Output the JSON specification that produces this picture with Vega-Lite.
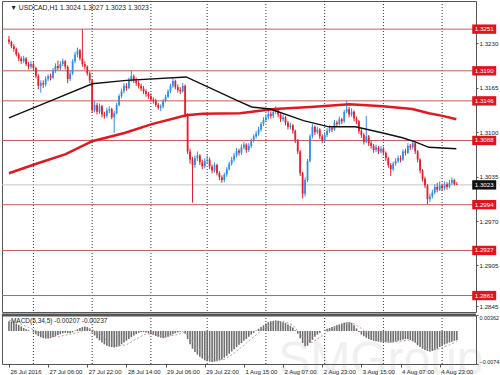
{
"$schema":"https://vega.github.io/schema/vega-lite/v6.json",
"padding":0,"spacing":0,"background":"white",
"config":{"view":{"stroke":"#555","strokeWidth":1},"font":"Liberation Sans",
"axis":{"labelFont":"Liberation Sans","labelFontSize":6.2,"labelColor":"#222","grid":false,"domain":false,"tickColor":"#555","tickSize":2,"labelPadding":1,"labelOverlap":false,"labelFlush":false,"title":null}},
"datasets":{
"grid":[{"i":10},{"i":34},{"i":58},{"i":81},{"i":105},{"i":129},{"i":153},{"i":177}],
"levels":[{"p":1.3251,"kind":"sr"},{"p":1.3190,"kind":"sr"},{"p":1.3146,"kind":"sr"},{"p":1.3088,"kind":"sr"},{"p":1.3023,"kind":"last"},{"p":1.2994,"kind":"sr"},{"p":1.2927,"kind":"sr"},{"p":1.2861,"kind":"sr"}],
"ma_black":[{"i":0,"p":1.3121},{"i":17,"p":1.3146},{"i":34,"p":1.3171},{"i":48,"p":1.3176},{"i":72.4,"p":1.3181},{"i":93.6,"p":1.3146},{"i":99.2,"p":1.3137},{"i":106.8,"p":1.3134},{"i":120.4,"p":1.3117},{"i":130.8,"p":1.3108},{"i":141.6,"p":1.3108},{"i":152.8,"p":1.3099},{"i":160.8,"p":1.3092},{"i":166,"p":1.3086},{"i":171.6,"p":1.3078},{"i":182.8,"p":1.3076}],
"ma_red":[{"i":0,"p":1.3040},{"i":11.2,"p":1.3054},{"i":23.2,"p":1.3068},{"i":34,"p":1.3087},{"i":47.2,"p":1.3099},{"i":58.4,"p":1.3112},{"i":72.4,"p":1.3125},{"i":79.2,"p":1.3127},{"i":94.4,"p":1.3128},{"i":108.4,"p":1.3134},{"i":123.2,"p":1.3137},{"i":139.2,"p":1.3141},{"i":152.8,"p":1.3138},{"i":164.8,"p":1.3134},{"i":171.6,"p":1.3128},{"i":177.2,"p":1.3124},{"i":182.8,"p":1.3119}],
"candles":[
{"i":0,"o":1.3236,"h":1.3241,"l":1.3229,"c":1.3232},{"i":1,"o":1.3232,"h":1.3234,"l":1.3223,"c":1.3226},{"i":2,"o":1.3226,"h":1.3229,"l":1.3218,"c":1.3222},{"i":3,"o":1.3222,"h":1.3224,"l":1.3211,"c":1.3214},{"i":4,"o":1.3214,"h":1.3217,"l":1.3204,"c":1.3208},{"i":5,"o":1.3208,"h":1.3211,"l":1.3200,"c":1.3204},{"i":6,"o":1.3204,"h":1.3212,"l":1.3201,"c":1.3208},{"i":7,"o":1.3208,"h":1.3210,"l":1.3197,"c":1.3200},{"i":8,"o":1.3200,"h":1.3203,"l":1.3192,"c":1.3196},{"i":9,"o":1.3196,"h":1.3204,"l":1.3193,"c":1.3200},
{"i":10,"o":1.3200,"h":1.3203,"l":1.3190,"c":1.3194},{"i":11,"o":1.3194,"h":1.3196,"l":1.3179,"c":1.3182},{"i":12,"o":1.3182,"h":1.3185,"l":1.3163,"c":1.3168},{"i":13,"o":1.3168,"h":1.3176,"l":1.3158,"c":1.3172},{"i":14,"o":1.3172,"h":1.3176,"l":1.3165,"c":1.3170},{"i":15,"o":1.3170,"h":1.3182,"l":1.3167,"c":1.3178},{"i":16,"o":1.3178,"h":1.3185,"l":1.3175,"c":1.3182},{"i":17,"o":1.3182,"h":1.3186,"l":1.3176,"c":1.3180},{"i":18,"o":1.3180,"h":1.3194,"l":1.3178,"c":1.3190},{"i":19,"o":1.3190,"h":1.3201,"l":1.3187,"c":1.3197},
{"i":20,"o":1.3197,"h":1.3205,"l":1.3191,"c":1.3194},{"i":21,"o":1.3194,"h":1.3204,"l":1.3191,"c":1.3200},{"i":22,"o":1.3200,"h":1.3208,"l":1.3197,"c":1.3204},{"i":23,"o":1.3204,"h":1.3206,"l":1.3192,"c":1.3196},{"i":24,"o":1.3196,"h":1.3198,"l":1.3172,"c":1.3178},{"i":25,"o":1.3178,"h":1.3190,"l":1.3175,"c":1.3186},{"i":26,"o":1.3186,"h":1.3207,"l":1.3184,"c":1.3204},{"i":27,"o":1.3204,"h":1.3218,"l":1.3201,"c":1.3214},{"i":28,"o":1.3214,"h":1.3224,"l":1.3210,"c":1.3220},{"i":29,"o":1.3220,"h":1.3222,"l":1.3205,"c":1.3208},
{"i":30,"o":1.3208,"h":1.3251,"l":1.3196,"c":1.3200},{"i":31,"o":1.3200,"h":1.3204,"l":1.3192,"c":1.3196},{"i":32,"o":1.3196,"h":1.3198,"l":1.3183,"c":1.3186},{"i":33,"o":1.3186,"h":1.3189,"l":1.3172,"c":1.3176},{"i":34,"o":1.3176,"h":1.3178,"l":1.3128,"c":1.3132},{"i":35,"o":1.3132,"h":1.3146,"l":1.3129,"c":1.3140},{"i":36,"o":1.3140,"h":1.3143,"l":1.3126,"c":1.3130},{"i":37,"o":1.3130,"h":1.3142,"l":1.3127,"c":1.3138},{"i":38,"o":1.3138,"h":1.3140,"l":1.3122,"c":1.3126},{"i":39,"o":1.3126,"h":1.3130,"l":1.3120,"c":1.3124},
{"i":40,"o":1.3124,"h":1.3136,"l":1.3121,"c":1.3132},{"i":41,"o":1.3132,"h":1.3138,"l":1.3128,"c":1.3134},{"i":42,"o":1.3134,"h":1.3136,"l":1.3119,"c":1.3122},{"i":43,"o":1.3122,"h":1.3131,"l":1.3099,"c":1.3128},{"i":44,"o":1.3128,"h":1.3143,"l":1.3126,"c":1.3140},{"i":45,"o":1.3140,"h":1.3156,"l":1.3138,"c":1.3153},{"i":46,"o":1.3153,"h":1.3164,"l":1.3150,"c":1.3160},{"i":47,"o":1.3160,"h":1.3172,"l":1.3157,"c":1.3168},{"i":48,"o":1.3168,"h":1.3172,"l":1.3161,"c":1.3165},{"i":49,"o":1.3165,"h":1.3180,"l":1.3163,"c":1.3176},
{"i":50,"o":1.3176,"h":1.3190,"l":1.3174,"c":1.3182},{"i":51,"o":1.3182,"h":1.3185,"l":1.3172,"c":1.3176},{"i":52,"o":1.3176,"h":1.3180,"l":1.3168,"c":1.3172},{"i":53,"o":1.3172,"h":1.3176,"l":1.3164,"c":1.3168},{"i":54,"o":1.3168,"h":1.3171,"l":1.3160,"c":1.3164},{"i":55,"o":1.3164,"h":1.3168,"l":1.3156,"c":1.3160},{"i":56,"o":1.3160,"h":1.3163,"l":1.3152,"c":1.3156},{"i":57,"o":1.3156,"h":1.3159,"l":1.3149,"c":1.3153},{"i":58,"o":1.3153,"h":1.3157,"l":1.3145,"c":1.3148},{"i":59,"o":1.3148,"h":1.3151,"l":1.3142,"c":1.3146},
{"i":60,"o":1.3146,"h":1.3149,"l":1.3137,"c":1.3140},{"i":61,"o":1.3140,"h":1.3143,"l":1.3133,"c":1.3136},{"i":62,"o":1.3136,"h":1.3141,"l":1.3131,"c":1.3138},{"i":63,"o":1.3138,"h":1.3149,"l":1.3135,"c":1.3146},{"i":64,"o":1.3146,"h":1.3155,"l":1.3144,"c":1.3152},{"i":65,"o":1.3152,"h":1.3163,"l":1.3150,"c":1.3160},{"i":66,"o":1.3160,"h":1.3171,"l":1.3157,"c":1.3168},{"i":67,"o":1.3168,"h":1.3179,"l":1.3165,"c":1.3175},{"i":68,"o":1.3175,"h":1.3177,"l":1.3163,"c":1.3166},{"i":69,"o":1.3166,"h":1.3170,"l":1.3158,"c":1.3162},
{"i":70,"o":1.3162,"h":1.3166,"l":1.3156,"c":1.3160},{"i":71,"o":1.3160,"h":1.3172,"l":1.3158,"c":1.3168},{"i":72,"o":1.3168,"h":1.3170,"l":1.3122,"c":1.3126},{"i":73,"o":1.3126,"h":1.3128,"l":1.3068,"c":1.3072},{"i":74,"o":1.3072,"h":1.3076,"l":1.3054,"c":1.3060},{"i":75,"o":1.3060,"h":1.3064,"l":1.2997,"c":1.3052},{"i":76,"o":1.3052,"h":1.3066,"l":1.3048,"c":1.3062},{"i":77,"o":1.3062,"h":1.3072,"l":1.3058,"c":1.3066},{"i":78,"o":1.3066,"h":1.3068,"l":1.3052,"c":1.3056},{"i":79,"o":1.3056,"h":1.3060,"l":1.3046,"c":1.3050},
{"i":80,"o":1.3050,"h":1.3062,"l":1.3047,"c":1.3058},{"i":81,"o":1.3058,"h":1.3066,"l":1.3054,"c":1.3060},{"i":82,"o":1.3060,"h":1.3063,"l":1.3046,"c":1.3050},{"i":83,"o":1.3050,"h":1.3053,"l":1.3040,"c":1.3044},{"i":84,"o":1.3044,"h":1.3056,"l":1.3041,"c":1.3052},{"i":85,"o":1.3052,"h":1.3054,"l":1.3037,"c":1.3040},{"i":86,"o":1.3040,"h":1.3043,"l":1.3030,"c":1.3034},{"i":87,"o":1.3034,"h":1.3037,"l":1.3026,"c":1.3030},{"i":88,"o":1.3030,"h":1.3041,"l":1.3027,"c":1.3038},{"i":89,"o":1.3038,"h":1.3049,"l":1.3035,"c":1.3046},
{"i":90,"o":1.3046,"h":1.3057,"l":1.3044,"c":1.3054},{"i":91,"o":1.3054,"h":1.3064,"l":1.3051,"c":1.3060},{"i":92,"o":1.3060,"h":1.3070,"l":1.3057,"c":1.3066},{"i":93,"o":1.3066,"h":1.3077,"l":1.3063,"c":1.3073},{"i":94,"o":1.3073,"h":1.3076,"l":1.3066,"c":1.3070},{"i":95,"o":1.3070,"h":1.3082,"l":1.3067,"c":1.3078},{"i":96,"o":1.3078,"h":1.3086,"l":1.3075,"c":1.3082},{"i":97,"o":1.3082,"h":1.3084,"l":1.3070,"c":1.3074},{"i":98,"o":1.3074,"h":1.3084,"l":1.3071,"c":1.3080},{"i":99,"o":1.3080,"h":1.3091,"l":1.3077,"c":1.3088},
{"i":100,"o":1.3088,"h":1.3097,"l":1.3085,"c":1.3094},{"i":101,"o":1.3094,"h":1.3102,"l":1.3091,"c":1.3098},{"i":102,"o":1.3098,"h":1.3108,"l":1.3095,"c":1.3104},{"i":103,"o":1.3104,"h":1.3115,"l":1.3101,"c":1.3112},{"i":104,"o":1.3112,"h":1.3122,"l":1.3109,"c":1.3118},{"i":105,"o":1.3118,"h":1.3126,"l":1.3115,"c":1.3122},{"i":106,"o":1.3122,"h":1.3131,"l":1.3119,"c":1.3127},{"i":107,"o":1.3127,"h":1.3130,"l":1.3120,"c":1.3124},{"i":108,"o":1.3124,"h":1.3134,"l":1.3121,"c":1.3130},{"i":109,"o":1.3130,"h":1.3138,"l":1.3127,"c":1.3132},
{"i":110,"o":1.3132,"h":1.3134,"l":1.3122,"c":1.3126},{"i":111,"o":1.3126,"h":1.3128,"l":1.3115,"c":1.3119},{"i":112,"o":1.3119,"h":1.3126,"l":1.3116,"c":1.3122},{"i":113,"o":1.3122,"h":1.3124,"l":1.3110,"c":1.3114},{"i":114,"o":1.3114,"h":1.3117,"l":1.3104,"c":1.3108},{"i":115,"o":1.3108,"h":1.3114,"l":1.3104,"c":1.3110},{"i":116,"o":1.3110,"h":1.3112,"l":1.3098,"c":1.3102},{"i":117,"o":1.3102,"h":1.3104,"l":1.3084,"c":1.3088},{"i":118,"o":1.3088,"h":1.3090,"l":1.3068,"c":1.3072},{"i":119,"o":1.3072,"h":1.3074,"l":1.3036,"c":1.3040},
{"i":120,"o":1.3040,"h":1.3042,"l":1.3003,"c":1.3010},{"i":121,"o":1.3010,"h":1.3034,"l":1.3006,"c":1.3030},{"i":122,"o":1.3030,"h":1.3061,"l":1.3027,"c":1.3058},{"i":123,"o":1.3058,"h":1.3097,"l":1.3056,"c":1.3094},{"i":124,"o":1.3094,"h":1.3112,"l":1.3091,"c":1.3108},{"i":125,"o":1.3108,"h":1.3110,"l":1.3096,"c":1.3100},{"i":126,"o":1.3100,"h":1.3108,"l":1.3097,"c":1.3104},{"i":127,"o":1.3104,"h":1.3106,"l":1.3090,"c":1.3094},{"i":128,"o":1.3094,"h":1.3097,"l":1.3084,"c":1.3088},{"i":129,"o":1.3088,"h":1.3100,"l":1.3085,"c":1.3096},
{"i":130,"o":1.3096,"h":1.3106,"l":1.3093,"c":1.3102},{"i":131,"o":1.3102,"h":1.3110,"l":1.3099,"c":1.3106},{"i":132,"o":1.3106,"h":1.3109,"l":1.3100,"c":1.3104},{"i":133,"o":1.3104,"h":1.3118,"l":1.3102,"c":1.3114},{"i":134,"o":1.3114,"h":1.3117,"l":1.3108,"c":1.3112},{"i":135,"o":1.3112,"h":1.3123,"l":1.3110,"c":1.3119},{"i":136,"o":1.3119,"h":1.3121,"l":1.3112,"c":1.3116},{"i":137,"o":1.3116,"h":1.3133,"l":1.3114,"c":1.3130},{"i":138,"o":1.3130,"h":1.3146,"l":1.3128,"c":1.3134},{"i":139,"o":1.3134,"h":1.3137,"l":1.3122,"c":1.3126},
{"i":140,"o":1.3126,"h":1.3135,"l":1.3123,"c":1.3130},{"i":141,"o":1.3130,"h":1.3132,"l":1.3116,"c":1.3120},{"i":142,"o":1.3120,"h":1.3123,"l":1.3112,"c":1.3116},{"i":143,"o":1.3116,"h":1.3118,"l":1.3098,"c":1.3102},{"i":144,"o":1.3102,"h":1.3106,"l":1.3092,"c":1.3096},{"i":145,"o":1.3096,"h":1.3099,"l":1.3082,"c":1.3086},{"i":146,"o":1.3086,"h":1.3124,"l":1.3084,"c":1.3094},{"i":147,"o":1.3094,"h":1.3096,"l":1.3080,"c":1.3084},{"i":148,"o":1.3084,"h":1.3088,"l":1.3076,"c":1.3080},{"i":149,"o":1.3080,"h":1.3083,"l":1.3070,"c":1.3074},
{"i":150,"o":1.3074,"h":1.3082,"l":1.3071,"c":1.3078},{"i":151,"o":1.3078,"h":1.3080,"l":1.3068,"c":1.3072},{"i":152,"o":1.3072,"h":1.3080,"l":1.3069,"c":1.3076},{"i":153,"o":1.3076,"h":1.3079,"l":1.3066,"c":1.3070},{"i":154,"o":1.3070,"h":1.3072,"l":1.3058,"c":1.3062},{"i":155,"o":1.3062,"h":1.3064,"l":1.3048,"c":1.3052},{"i":156,"o":1.3052,"h":1.3055,"l":1.3036,"c":1.3046},{"i":157,"o":1.3046,"h":1.3057,"l":1.3043,"c":1.3054},{"i":158,"o":1.3054,"h":1.3062,"l":1.3051,"c":1.3058},{"i":159,"o":1.3058,"h":1.3066,"l":1.3055,"c":1.3062},
{"i":160,"o":1.3062,"h":1.3066,"l":1.3056,"c":1.3060},{"i":161,"o":1.3060,"h":1.3075,"l":1.3058,"c":1.3072},{"i":162,"o":1.3072,"h":1.3076,"l":1.3066,"c":1.3070},{"i":163,"o":1.3070,"h":1.3084,"l":1.3068,"c":1.3080},{"i":164,"o":1.3080,"h":1.3083,"l":1.3074,"c":1.3078},{"i":165,"o":1.3078,"h":1.3088,"l":1.3075,"c":1.3084},{"i":166,"o":1.3084,"h":1.3086,"l":1.3068,"c":1.3072},{"i":167,"o":1.3072,"h":1.3074,"l":1.3056,"c":1.3060},{"i":168,"o":1.3060,"h":1.3062,"l":1.3040,"c":1.3044},{"i":169,"o":1.3044,"h":1.3046,"l":1.3028,"c":1.3032},
{"i":170,"o":1.3032,"h":1.3035,"l":1.3018,"c":1.3022},{"i":171,"o":1.3022,"h":1.3024,"l":1.2995,"c":1.3002},{"i":172,"o":1.3002,"h":1.3010,"l":1.2998,"c":1.3006},{"i":173,"o":1.3006,"h":1.3016,"l":1.3003,"c":1.3012},{"i":174,"o":1.3012,"h":1.3024,"l":1.3009,"c":1.3020},{"i":175,"o":1.3020,"h":1.3026,"l":1.3012,"c":1.3016},{"i":176,"o":1.3016,"h":1.3028,"l":1.3014,"c":1.3022},{"i":177,"o":1.3022,"h":1.3025,"l":1.3014,"c":1.3018},{"i":178,"o":1.3018,"h":1.3028,"l":1.3015,"c":1.3024},{"i":179,"o":1.3024,"h":1.3027,"l":1.3016,"c":1.3020},
{"i":180,"o":1.3020,"h":1.3030,"l":1.3018,"c":1.3026},{"i":181,"o":1.3026,"h":1.3034,"l":1.3023,"c":1.3030},{"i":182,"o":1.3030,"h":1.3032,"l":1.3022,"c":1.3024},{"i":183,"o":1.3024,"h":1.3027,"l":1.3023,"c":1.3023}],
"macd":[
{"i":0,"m":0.0022},{"i":1,"m":0.0021},{"i":2,"m":0.0020},{"i":3,"m":0.0017},{"i":4,"m":0.0014},{"i":5,"m":0.0010},{"i":6,"m":0.0007},{"i":7,"m":0.0004},{"i":8,"m":0.0002},{"i":9,"m":0.0000},
{"i":10,"m":-0.0003},{"i":11,"m":-0.0007},{"i":12,"m":-0.0011},{"i":13,"m":-0.0014},{"i":14,"m":-0.0016},{"i":15,"m":-0.0017},{"i":16,"m":-0.0017},{"i":17,"m":-0.0016},{"i":18,"m":-0.0014},{"i":19,"m":-0.0011},
{"i":20,"m":-0.0009},{"i":21,"m":-0.0007},{"i":22,"m":-0.0005},{"i":23,"m":-0.0004},{"i":24,"m":-0.0005},{"i":25,"m":-0.0005},{"i":26,"m":-0.0003},{"i":27,"m":0.0001},{"i":28,"m":0.0004},{"i":29,"m":0.0007},
{"i":30,"m":0.0009},{"i":31,"m":0.0010},{"i":32,"m":0.0009},{"i":33,"m":0.0006},{"i":34,"m":-0.0003},{"i":35,"m":-0.0010},{"i":36,"m":-0.0016},{"i":37,"m":-0.0021},{"i":38,"m":-0.0026},{"i":39,"m":-0.0030},
{"i":40,"m":-0.0033},{"i":41,"m":-0.0035},{"i":42,"m":-0.0036},{"i":43,"m":-0.0037},{"i":44,"m":-0.0036},{"i":45,"m":-0.0034},{"i":46,"m":-0.0030},{"i":47,"m":-0.0026},{"i":48,"m":-0.0022},{"i":49,"m":-0.0018},
{"i":50,"m":-0.0014},{"i":51,"m":-0.0010},{"i":52,"m":-0.0007},{"i":53,"m":-0.0004},{"i":54,"m":-0.0002},{"i":55,"m":-0.0002},{"i":56,"m":-0.0003},{"i":57,"m":-0.0005},{"i":58,"m":-0.0007},{"i":59,"m":-0.0009},
{"i":60,"m":-0.0011},{"i":61,"m":-0.0013},{"i":62,"m":-0.0015},{"i":63,"m":-0.0016},{"i":64,"m":-0.0015},{"i":65,"m":-0.0013},{"i":66,"m":-0.0010},{"i":67,"m":-0.0007},{"i":68,"m":-0.0005},{"i":69,"m":-0.0003},
{"i":70,"m":-0.0002},{"i":71,"m":-0.0001},{"i":72,"m":-0.0006},{"i":73,"m":-0.0018},{"i":74,"m":-0.0030},{"i":75,"m":-0.0040},{"i":76,"m":-0.0047},{"i":77,"m":-0.0053},{"i":78,"m":-0.0058},{"i":79,"m":-0.0062},
{"i":80,"m":-0.0066},{"i":81,"m":-0.0068},{"i":82,"m":-0.0069},{"i":83,"m":-0.0070},{"i":84,"m":-0.0069},{"i":85,"m":-0.0068},{"i":86,"m":-0.0066},{"i":87,"m":-0.0064},{"i":88,"m":-0.0060},{"i":89,"m":-0.0056},
{"i":90,"m":-0.0051},{"i":91,"m":-0.0046},{"i":92,"m":-0.0041},{"i":93,"m":-0.0036},{"i":94,"m":-0.0031},{"i":95,"m":-0.0027},{"i":96,"m":-0.0022},{"i":97,"m":-0.0018},{"i":98,"m":-0.0013},{"i":99,"m":-0.0008},
{"i":100,"m":-0.0004},{"i":101,"m":0.0001},{"i":102,"m":0.0005},{"i":103,"m":0.0009},{"i":104,"m":0.0013},{"i":105,"m":0.0017},{"i":106,"m":0.0020},{"i":107,"m":0.0022},{"i":108,"m":0.0023},{"i":109,"m":0.0024},
{"i":110,"m":0.0023},{"i":111,"m":0.0022},{"i":112,"m":0.0020},{"i":113,"m":0.0018},{"i":114,"m":0.0015},{"i":115,"m":0.0012},{"i":116,"m":0.0008},{"i":117,"m":0.0002},{"i":118,"m":-0.0006},{"i":119,"m":-0.0016},
{"i":120,"m":-0.0027},{"i":121,"m":-0.0034},{"i":122,"m":-0.0033},{"i":123,"m":-0.0027},{"i":124,"m":-0.0020},{"i":125,"m":-0.0013},{"i":126,"m":-0.0008},{"i":127,"m":-0.0004},{"i":128,"m":0.0000},{"i":129,"m":0.0003},
{"i":130,"m":0.0005},{"i":131,"m":0.0007},{"i":132,"m":0.0009},{"i":133,"m":0.0011},{"i":134,"m":0.0013},{"i":135,"m":0.0015},{"i":136,"m":0.0017},{"i":137,"m":0.0019},{"i":138,"m":0.0020},{"i":139,"m":0.0020},
{"i":140,"m":0.0018},{"i":141,"m":0.0013},{"i":142,"m":0.0006},{"i":143,"m":-0.0002},{"i":144,"m":-0.0008},{"i":145,"m":-0.0012},{"i":146,"m":-0.0015},{"i":147,"m":-0.0018},{"i":148,"m":-0.0020},{"i":149,"m":-0.0022},
{"i":150,"m":-0.0023},{"i":151,"m":-0.0024},{"i":152,"m":-0.0025},{"i":153,"m":-0.0025},{"i":154,"m":-0.0025},{"i":155,"m":-0.0026},{"i":156,"m":-0.0026},{"i":157,"m":-0.0025},{"i":158,"m":-0.0024},{"i":159,"m":-0.0022},
{"i":160,"m":-0.0021},{"i":161,"m":-0.0019},{"i":162,"m":-0.0018},{"i":163,"m":-0.0018},{"i":164,"m":-0.0020},{"i":165,"m":-0.0023},{"i":166,"m":-0.0027},{"i":167,"m":-0.0032},{"i":168,"m":-0.0036},{"i":169,"m":-0.0040},
{"i":170,"m":-0.0043},{"i":171,"m":-0.0045},{"i":172,"m":-0.0046},{"i":173,"m":-0.0045},{"i":174,"m":-0.0043},{"i":175,"m":-0.0040},{"i":176,"m":-0.0036},{"i":177,"m":-0.0033},{"i":178,"m":-0.0030},{"i":179,"m":-0.0028},
{"i":180,"m":-0.0026},{"i":181,"m":-0.0024},{"i":182,"m":-0.0022},{"i":183,"m":-0.0021}],
"signal":[{"i":0,"s":0.0025},{"i":4,"s":0.0018},{"i":8,"s":0.0008},{"i":12,"s":-0.0002},{"i":16,"s":-0.0011},{"i":20,"s":-0.0013},{"i":24,"s":-0.0008},{"i":28,"s":-0.0004},{"i":32,"s":0.0005},{"i":36,"s":0.0000},{"i":40,"s":-0.0022},{"i":44,"s":-0.0034},{"i":48,"s":-0.0031},{"i":52,"s":-0.0018},{"i":56,"s":-0.0006},{"i":60,"s":-0.0008},{"i":64,"s":-0.0013},{"i":68,"s":-0.0009},{"i":72,"s":-0.0003},{"i":76,"s":-0.0030},{"i":80,"s":-0.0055},{"i":84,"s":-0.0066},{"i":88,"s":-0.0064},{"i":92,"s":-0.0050},{"i":96,"s":-0.0032},{"i":100,"s":-0.0013},{"i":104,"s":0.0005},{"i":108,"s":0.0019},{"i":112,"s":0.0022},{"i":116,"s":0.0014},{"i":120,"s":-0.0014},{"i":124,"s":-0.0026},{"i":128,"s":-0.0010},{"i":132,"s":0.0006},{"i":136,"s":0.0015},{"i":140,"s":0.0019},{"i":144,"s":0.0006},{"i":148,"s":-0.0012},{"i":152,"s":-0.0022},{"i":156,"s":-0.0025},{"i":160,"s":-0.0023},{"i":164,"s":-0.0020},{"i":168,"s":-0.0031},{"i":172,"s":-0.0042},{"i":176,"s":-0.0040},{"i":180,"s":-0.0031},{"i":183,"s":-0.00237}]
},
"vconcat":[
{"width":474,"height":311,
"layer":[
{"data":{"name":"grid"},"mark":{"type":"rule","color":"#333","strokeDash":[1,2],"strokeWidth":1},
 "encoding":{"x":{"field":"i","type":"quantitative","scale":{"domain":[-0.8,188.8],"nice":false,"zero":false},"axis":null}}},
{"data":{"name":"levels"},"mark":{"type":"rule","strokeWidth":1},
 "encoding":{"y":{"field":"p","type":"quantitative","scale":{"domain":[1.28369,1.32922],"nice":false,"zero":false},
   "axis":{"orient":"right","values":[1.3260,1.3230,1.3195,1.3165,1.3130,1.3100,1.3070,1.3035,1.3005,1.2970,1.2940,1.2905,1.2875,1.2845],"format":".4f"}},
  "color":{"condition":{"test":"datum.kind=='last'","value":"#c4c4c4"},"value":"#c65a5a"}}},
{"data":{"name":"candles"},"mark":{"type":"rule","strokeWidth":1},
 "encoding":{"x":{"field":"i","type":"quantitative","scale":{"domain":[-0.8,188.8],"nice":false,"zero":false},"axis":null},
  "y":{"field":"l","type":"quantitative","scale":{"domain":[1.28369,1.32922],"nice":false,"zero":false}},"y2":{"field":"h"},
  "color":{"condition":{"test":"datum.c>datum.o","value":"#2f8fe8"},"value":"#e2202a"}}},
{"data":{"name":"candles"},"mark":{"type":"bar","size":1.8},
 "encoding":{"x":{"field":"i","type":"quantitative","scale":{"domain":[-0.8,188.8],"nice":false,"zero":false},"axis":null},
  "y":{"field":"o","type":"quantitative","scale":{"domain":[1.28369,1.32922],"nice":false,"zero":false}},"y2":{"field":"c"},
  "color":{"condition":{"test":"datum.c>datum.o","value":"#2f8fe8"},"value":"#e2202a"}}},
{"data":{"name":"ma_red"},"mark":{"type":"line","color":"#e3171f","strokeWidth":2.5},
 "encoding":{"x":{"field":"i","type":"quantitative","scale":{"domain":[-0.8,188.8],"nice":false,"zero":false},"axis":null},
  "y":{"field":"p","type":"quantitative","scale":{"domain":[1.28369,1.32922],"nice":false,"zero":false}}}},
{"data":{"name":"ma_black"},"mark":{"type":"line","color":"#111","strokeWidth":1.4},
 "encoding":{"x":{"field":"i","type":"quantitative","scale":{"domain":[-0.8,188.8],"nice":false,"zero":false},"axis":null},
  "y":{"field":"p","type":"quantitative","scale":{"domain":[1.28369,1.32922],"nice":false,"zero":false}}}},
{"data":{"name":"levels"},"mark":{"type":"point","shape":"M-1,-0.39H1V0.39H-1Z","filled":true,"size":576,"opacity":1,"strokeWidth":0},
 "encoding":{"x":{"datum":194.2,"type":"quantitative"},
  "y":{"field":"p","type":"quantitative","scale":{"domain":[1.28369,1.32922],"nice":false,"zero":false}},
  "color":{"condition":{"test":"datum.kind=='last'","value":"#111"},"value":"#e0141c"}}},
{"data":{"name":"levels"},"mark":{"type":"text","color":"white","fontSize":6.2,"align":"center","baseline":"middle"},
 "encoding":{"x":{"datum":194.2,"type":"quantitative"},
  "y":{"field":"p","type":"quantitative","scale":{"domain":[1.28369,1.32922],"nice":false,"zero":false}},
  "text":{"field":"p","type":"quantitative","format":".4f"}}},
{"data":{"values":[{"t":"▼ USDCAD,H1  1.3024 1.3027 1.3023 1.3023"}]},"mark":{"type":"text","align":"left","baseline":"middle","fontSize":6.8,"color":"#222"},
 "encoding":{"x":{"datum":0.5,"type":"quantitative"},"y":{"datum":1.3282,"type":"quantitative"},"text":{"field":"t"}}}
]},
{"width":474,"height":49,
"layer":[
{"data":{"name":"grid"},"mark":{"type":"rule","color":"#333","strokeDash":[1,2],"strokeWidth":1},
 "encoding":{"x":{"field":"i","type":"quantitative","scale":{"domain":[-0.8,188.8],"nice":false,"zero":false},
   "axis":{"values":[0,16,32,48,64,80,96,112,128,144,160,176],"labelAlign":"left","labelOffset":1,"tickSize":3,"labelPadding":1,"labelFontSize":6,
   "labelExpr":"['26 Jul 2016','27 Jul 06:00','27 Jul 22:00','28 Jul 14:00','29 Jul 06:00','29 Jul 22:00','1 Aug 15:00','2 Aug 07:00','2 Aug 23:00','3 Aug 15:00','4 Aug 07:00','4 Aug 23:00'][round(datum.value/16)]"}}}},
{"data":{"name":"macd"},"mark":{"type":"bar","size":1.6,"color":"#6f6f6f"},
 "encoding":{"x":{"field":"i","type":"quantitative","scale":{"domain":[-0.8,188.8],"nice":false,"zero":false}},
  "y":{"field":"m","type":"quantitative","scale":{"domain":[-0.00743,0.00362],"nice":false,"zero":false},
   "axis":{"orient":"right","values":[0.00362,0,-0.00743],"labelFlush":true,"labelFontSize":5.4,"labelExpr":"datum.value==0?'0.00':format(datum.value,'.5f')"}},
  "y2":{"datum":0}}},
{"data":{"name":"signal"},"mark":{"type":"line","color":"#b99a9a","strokeWidth":1,"strokeDash":[2,2]},
 "encoding":{"x":{"field":"i","type":"quantitative","scale":{"domain":[-0.8,188.8],"nice":false,"zero":false}},
  "y":{"field":"s","type":"quantitative","scale":{"domain":[-0.00743,0.00362],"nice":false,"zero":false}}}},
{"data":{"values":[{"t":"x"}]},"mark":{"type":"rule","color":"#555","strokeWidth":3},
 "encoding":{"y":{"datum":0.00362,"type":"quantitative"}}},
{"data":{"values":[{"t":"MACD(5,34,5) -0.00207 -0.00237"}]},"mark":{"type":"text","align":"left","baseline":"middle","fontSize":6.5,"color":"#222"},
 "encoding":{"x":{"datum":0.8,"type":"quantitative"},"y":{"datum":0.00227,"type":"quantitative"},"text":{"field":"t"}}},
{"data":{"values":[{"t":"SMGroup"}]},"mark":{"type":"text","align":"left","baseline":"alphabetic","fontSize":48,"color":"#888","opacity":0.12},
 "encoding":{"x":{"datum":110,"type":"quantitative"},"y":{"datum":-0.0100,"type":"quantitative"},"text":{"field":"t"}}}
]}
]
}
